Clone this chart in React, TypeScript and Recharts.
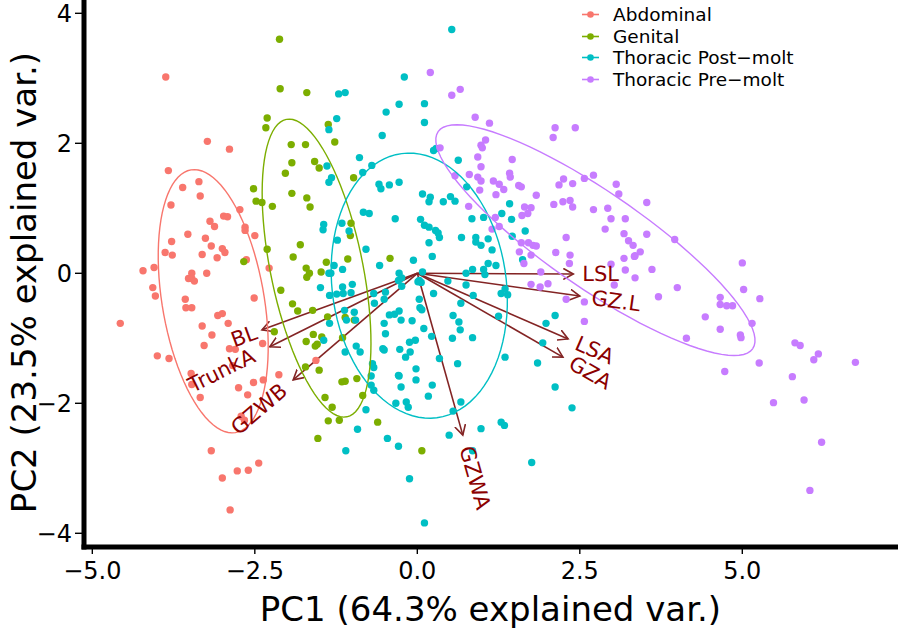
import { Label, Scatter, ScatterChart, XAxis, YAxis } from "recharts";

const FONT = "DejaVu Sans";
const ARROW = "#832424";
const LABEL = "#8B0000";

const groupNames = ["Abdominal", "Genital", "Thoracic Post\u2212molt", "Thoracic Pre\u2212molt"];
const groupColors = ["#F8766D", "#7CAE00", "#00BFC4", "#C77CFF"];

const xTicks = [-5, -2.5, 0, 2.5, 5];
const yTicks = [-4, -2, 0, 2, 4];

// PC scores [PC1, PC2] per group
const abdominal = [
  [-3.87, 3.02], [-3.23, 2.03], [-2.89, 1.91], [-3.83, 1.58], [-3.61, 1.32], [-3.36, 1.41], [-3.34, 1.19],
  [-3.79, 1.05], [-2.73, 0.98], [-2.98, 0.88], [-2.92, 0.87], [-3.19, 0.8], [-3.12, 0.72], [-2.65, 0.71],
  [-2.65, 0.66], [-3.53, 0.6], [-2.5, 0.58], [-3.26, 0.54], [-3.78, 0.49], [-3.17, 0.42], [-3.0, 0.38],
  [-2.96, 0.32], [-3.88, 0.32], [-3.77, 0.28], [-3.31, 0.29], [-3.08, 0.24], [-2.63, 0.21], [-2.28, 0.08],
  [-4.05, 0.09], [-4.22, 0.04], [-3.47, 0.0], [-3.24, 0.0], [-3.52, -0.08], [-3.47, -0.08], [-3.43, -0.12],
  [-4.07, -0.22], [-4.03, -0.35], [-2.51, -0.38], [-3.57, -0.4], [-3.56, -0.53], [-3.47, -0.53], [-3.07, -0.65],
  [-3.0, -0.62], [-4.57, -0.77], [-3.31, -0.81], [-2.91, -0.77], [-3.16, -0.95], [-3.28, -1.11], [-2.89, -1.16],
  [-2.8, -1.17], [-2.38, -1.08], [-4.0, -1.27], [-3.82, -1.31], [-2.84, -1.42], [-3.48, -1.54], [-3.47, -1.71],
  [-2.52, -1.68], [-2.37, -1.64], [-2.13, -1.56], [-2.75, -1.76], [-2.61, -1.87], [-3.34, -1.91], [-2.71, -2.2],
  [-2.66, -2.26], [-3.17, -2.73], [-2.77, -3.04], [-2.6, -3.03], [-2.44, -2.92], [-3.0, -3.15], [-2.88, -3.64],
  [-1.56, -1.34],
];

const genital = [
  [-2.12, 3.6], [-2.11, 2.84], [-1.7, 2.78], [-2.31, 2.39], [-2.33, 2.24], [-1.37, 2.29], [-1.94, 1.98],
  [-1.72, 1.98], [-1.27, 2.02], [-1.93, 1.7], [-1.58, 1.72], [-1.51, 1.62], [-2.03, 1.54], [-0.98, 1.47],
  [-2.52, 1.3], [-2.48, 1.11], [-2.39, 1.09], [-2.23, 1.03], [-1.93, 1.23], [-1.7, 1.16], [-1.65, 1.02],
  [-1.02, 0.77], [-1.03, 0.58], [-2.31, 0.37], [-1.8, 0.44], [-1.91, 0.25], [-1.07, 0.22], [-2.67, 0.18],
  [-1.4, 0.17], [-1.71, 0.08], [-1.66, 0.0], [-1.7, -0.06], [-1.48, 0.02], [-0.42, 0.23], [-2.1, -0.26],
  [-1.92, -0.47], [-1.84, -0.58], [-1.61, -0.57], [-1.38, -0.67], [-2.2, -0.9], [-1.6, -0.94], [-1.47, -0.98],
  [-1.71, -1.05], [-1.57, -1.12], [-1.54, -1.09], [-1.11, -0.68], [-1.72, -1.44], [-1.51, -1.49], [-1.15, -0.99],
  [-0.93, -1.62], [-1.16, -1.67], [-1.11, -1.66], [-1.42, -1.91], [-1.31, -2.06], [-1.37, -2.27], [-1.2, -2.26],
  [-1.53, -2.54], [-0.97, -0.72], [-0.84, -1.88], [-0.61, -2.29], [0.07, -2.73],
];

const postMolt = [
  [-1.21, 2.76], [-1.11, 2.78], [-1.24, 2.38], [-1.36, 2.21], [-1.39, 1.65], [-1.36, 1.4], [-1.32, 1.47],
  [-0.89, 1.78], [-1.44, 0.75], [-1.45, 0.67], [-1.16, 0.77], [-1.23, 0.51], [-1.05, 0.65], [-1.15, 0.06],
  [-1.28, 0.12], [-1.36, 0.0], [-1.33, 0.0], [0.53, 3.75], [-0.2, 3.02], [-0.28, 2.6], [0.11, 2.61],
  [-0.48, 2.48], [0.11, 2.32], [-0.54, 2.12], [0.25, 1.89], [0.29, 1.92], [0.63, 1.74], [-0.7, 1.66],
  [-0.84, 1.55], [-0.59, 1.37], [-0.56, 1.3], [-0.43, 1.36], [-0.28, 1.4], [0.76, 1.33], [0.08, 1.22],
  [0.2, 1.17], [0.18, 1.1], [0.4, 1.1], [0.51, 1.18], [0.58, 1.11], [1.42, 1.07], [-0.83, 0.94], [-0.74, 0.92],
  [1.3, 0.92], [-0.34, 0.84], [0.05, 0.83], [0.84, 0.84], [1.02, 0.86], [1.45, 0.83], [0.11, 0.74], [0.18, 0.71],
  [0.28, 0.66], [0.32, 0.62], [0.34, 0.55], [0.68, 0.55], [0.9, 0.55], [0.9, 0.48], [0.98, 0.43], [1.09, 0.53],
  [1.15, 0.36], [1.46, 0.57], [1.66, 0.65], [0.18, 0.47], [-0.79, 0.37], [-0.06, 0.2], [0.23, 0.26], [-0.58, 0.12],
  [1.09, 0.15], [1.21, 0.12], [1.62, 0.21], [0.85, 0.06], [1.02, 0.06], [0.75, 0.0], [-0.28, 0.0], [0.08, 0.02],
  [1.04, -0.02], [-0.24, -0.07], [-0.29, -0.11], [0.03, -0.11], [0.06, -0.14], [0.01, -0.13], [0.47, -0.12],
  [0.75, -0.18], [-1.0, -0.17], [-1.02, -0.3], [-1.14, -0.31], [-0.67, -0.31], [-0.49, -0.29], [-0.66, -0.46],
  [-0.51, -0.4], [-0.24, -0.2], [0.25, -0.31], [0.86, -0.34], [1.29, -0.31], [1.35, -0.24], [1.39, -0.33],
  [0.03, -0.4], [0.04, -0.53], [0.07, -0.56], [0.67, -0.46], [-1.12, -0.57], [-0.97, -0.6], [-0.95, -0.72],
  [-1.09, -0.72], [-0.43, -0.64], [-0.35, -0.63], [-0.28, -0.58], [-0.25, -0.72], [-0.51, -0.77], [-0.49, -0.93],
  [-0.08, -0.73], [0.55, -0.65], [0.64, -0.75], [0.66, -0.87], [1.25, -0.66], [0.1, -0.85], [0.22, -0.97],
  [0.54, -1.0], [0.85, -0.99], [-0.12, -1.06], [-0.03, -1.03], [-0.11, -1.21], [-0.18, -1.29], [-0.94, -1.12],
  [-0.88, -1.21], [-1.11, -1.21], [-0.53, -1.16], [-0.51, -1.18], [-0.27, -1.17], [0.34, -1.31], [0.62, -1.39],
  [1.35, -1.29], [1.85, -1.38], [1.93, -1.07], [1.98, -0.77], [2.12, -0.65], [-0.69, -1.39], [-0.67, -1.45],
  [-0.71, -1.58], [-0.02, -1.47], [-0.02, -1.64], [-0.29, -1.57], [-0.28, -1.58], [-0.25, -1.75], [0.23, -1.72],
  [0.17, -1.89], [-0.71, -1.72], [-0.67, -1.8], [-0.33, -2.0], [-0.17, -1.98], [-0.14, -2.06], [-0.79, -2.1],
  [0.67, -1.98], [0.55, -2.12], [2.12, -1.75], [2.38, -2.07], [1.29, -2.29], [1.34, -2.34], [0.98, -2.39],
  [0.49, -2.49], [-0.92, -2.4], [-0.46, -2.54], [-0.29, -2.66], [-1.1, -2.73], [0.85, -2.73], [1.76, -2.91],
  [-0.12, -3.16], [0.11, -3.84], [-1.49, -0.22], [-1.35, -0.34], [-1.24, -0.32], [-1.15, -0.21], [-1.35, -0.77],
  [-1.44, -1.03],
];

const preMolt = [
  [0.2, 3.09], [0.53, 2.74], [0.66, 2.83], [0.89, 2.4], [1.11, 2.31], [2.12, 2.24], [2.09, 2.09], [2.43, 2.24],
  [0.35, 1.93], [1.05, 2.05], [0.98, 1.97], [1.0, 1.93], [0.93, 1.79], [1.46, 1.75], [0.98, 1.64], [0.8, 1.52],
  [0.93, 1.48], [0.98, 1.42], [0.96, 1.28], [0.58, 1.5], [1.42, 1.54], [1.43, 1.48], [1.17, 1.42], [1.26, 1.37],
  [1.33, 1.29], [1.21, 1.21], [1.56, 1.35], [1.6, 1.33], [1.83, 1.2], [2.18, 1.36], [2.25, 1.45], [2.39, 1.38],
  [2.57, 1.46], [2.71, 1.51], [3.06, 1.37], [3.1, 1.22], [0.79, 1.03], [1.65, 1.02], [1.75, 1.01], [1.61, 0.89],
  [1.7, 0.92], [2.1, 1.06], [2.24, 1.1], [2.35, 1.12], [2.39, 1.02], [2.71, 0.98], [2.93, 1.0], [2.98, 0.84],
  [3.2, 0.84], [1.2, 0.86], [1.15, 0.68], [1.26, 0.72], [2.89, 0.68], [3.18, 0.61], [3.25, 0.5], [3.32, 0.43],
  [2.29, 0.55], [1.6, 0.47], [1.71, 0.47], [1.78, 0.43], [1.83, 0.42], [1.57, 0.33], [2.13, 0.32], [1.75, 0.28],
  [2.35, 0.28], [3.18, 0.23], [3.35, 0.27], [1.64, 0.15], [1.9, 0.02], [1.75, -0.17], [1.89, -0.21], [2.01, -0.16],
  [2.34, 0.15], [2.98, 0.14], [3.2, 0.05], [3.35, -0.07], [3.03, -0.18], [2.29, -0.4], [2.57, -0.44], [2.57, -0.74],
  [3.53, 1.09], [3.43, 0.33], [3.34, 0.26], [3.53, 0.6], [3.96, 0.52], [3.61, 0.06], [5.0, 0.16], [4.0, -0.22],
  [3.71, -0.36], [5.02, -0.25], [5.27, -0.39], [4.66, -0.37], [4.66, -0.48], [4.76, -0.5], [4.85, -0.5],
  [4.43, -0.67], [4.66, -0.86], [5.15, -0.77], [4.14, -1.0], [4.97, -0.95], [4.98, -0.99], [5.81, -1.07],
  [5.89, -1.11], [6.17, -1.24], [6.1, -1.33], [6.74, -1.37], [4.73, -1.51], [5.26, -1.38], [5.77, -1.59],
  [5.48, -1.99], [5.95, -1.95], [6.22, -2.6], [6.04, -3.34],
];

// concentration ellipses: centre, semi-axes, tilt (degrees)
const ellipseCentres = [[-3.14, -0.43], [-1.55, 0.08], [0.03, -0.19], [2.74, 0.51]];
const ellipseAxes = [[2.05, 0.785], [2.335, 0.71], [2.05, 1.34], [2.94, 0.734]];
const ellipseTilts = [99.6, 101.5, 97.6, -34.6];

// variable loadings (arrow tips)
const loadingNames = ["LSL", "GZ.L", "LSA", "GZA", "GZWA", "BL", "TrunkA", "GZWB"];
const loadingPC1 = [2.4, 2.5, 2.32, 2.24, 0.7, -2.39, -2.27, -1.91];
const loadingPC2 = [-0.01, -0.35, -1.01, -1.29, -2.49, -0.87, -1.13, -1.64];

const groups = [abdominal, genital, postMolt, preMolt].map((pts) =>
  pts.map(([x, y]) => ({ x, y }))
);

const ellipses = ellipseCentres.map(([cx, cy], i) => {
  const [a, b] = ellipseAxes[i];
  const th = (ellipseTilts[i] * Math.PI) / 180;
  const pts = [];
  for (let k = 0; k <= 90; k++) {
    const t = (2 * Math.PI * k) / 90;
    pts.push({
      x: cx + a * Math.cos(t) * Math.cos(th) - b * Math.sin(t) * Math.sin(th),
      y: cy + a * Math.cos(t) * Math.sin(th) + b * Math.sin(t) * Math.cos(th),
    });
  }
  return pts;
});

const loadings = loadingNames.map((name, i) => ({ name, x: loadingPC1[i], y: loadingPC2[i] }));

const fmt = (v: number, digits: number) => v.toFixed(digits).replace("-", "\u2212");

const noShape = () => <g />;

const LoadingLabel = (props: any) => {
  const { cx, cy, payload } = props;
  const angle = (Math.atan(payload.y / payload.x) * 180) / Math.PI;
  const right = payload.x >= 0;
  const gap = payload.name.length * 3;
  return (
    <text
      x={cx}
      y={cy}
      dx={right ? gap : -gap}
      transform={`rotate(${-angle} ${cx} ${cy})`}
      textAnchor={right ? "start" : "end"}
      dominantBaseline="central"
      fill={LABEL}
      fontSize={21}
      fontFamily={FONT}
    >
      {payload.name}
    </text>
  );
};

export default function App() {
  const tickStyle = { fill: "#000", fontSize: 24, fontFamily: FONT };
  return (
    <div style={{ position: "absolute", left: 0, top: 0, width: 898, height: 631, background: "#fff" }}>
      <ScatterChart width={898} height={631} margin={{ top: 2, right: 1, bottom: 0, left: 0 }}>
        <defs>
          <marker
            id="arrowHead"
            markerUnits="userSpaceOnUse"
            markerWidth={12}
            markerHeight={12}
            refX={10}
            refY={6}
            orient="auto"
          >
            <path d="M0,0.5 L10,6 L0,11.5" fill="none" stroke={ARROW} strokeWidth={1.6} />
          </marker>
        </defs>
        <XAxis
          type="number"
          dataKey="x"
          domain={[-5.128, 7.38]}
          allowDataOverflow
          ticks={xTicks}
          tickFormatter={(v) => fmt(v, 1)}
          height={84}
          tick={tickStyle}
          tickSize={7}
          tickMargin={8}
          tickLine={{ stroke: "#000", strokeWidth: 1.4 }}
          axisLine={{ stroke: "#000", strokeWidth: 5, strokeLinecap: "square" }}
        >
          <Label
            content={(p: any) => (
              <text
                x={p.viewBox.x + p.viewBox.width / 2}
                y={621}
                textAnchor="middle"
                fontSize={34}
                fontFamily={FONT}
                fill="#000"
              >
                PC1 (64.3% explained var.)
              </text>
            )}
          />
        </XAxis>
        <YAxis
          type="number"
          dataKey="y"
          domain={[-4.211, 4.174]}
          allowDataOverflow
          ticks={yTicks}
          tickFormatter={(v) => fmt(v, 0)}
          width={84}
          tick={tickStyle}
          tickSize={9}
          tickMargin={3}
          tickLine={{ stroke: "#000", strokeWidth: 1.4 }}
          axisLine={{ stroke: "#000", strokeWidth: 5, strokeLinecap: "square" }}
        >
          <Label
            content={(p: any) => {
              const cy = p.viewBox.y + p.viewBox.height / 2 + 8;
              return (
                <text
                  x={36}
                  y={cy}
                  transform={`rotate(-90 36 ${cy})`}
                  textAnchor="middle"
                  fontSize={34}
                  fontFamily={FONT}
                  fill="#000"
                >
                  PC2 (23.5% explained var.)
                </text>
              );
            }}
          />
        </YAxis>

        {loadings.map((l) => (
          <Scatter
            key={`arrow-${l.name}`}
            data={[{ x: 0, y: 0 }, { x: l.x, y: l.y }]}
            fill={ARROW}
            line={{ stroke: ARROW, strokeWidth: 1.6, markerEnd: "url(#arrowHead)" }}
            shape={noShape}
            isAnimationActive={false}
          />
        ))}

        {groups.map((pts, i) => (
          <Scatter
            key={groupNames[i]}
            name={groupNames[i]}
            data={pts}
            fill={groupColors[i]}
            shape={(p: any) => <circle cx={p.cx} cy={p.cy} r={3.7} fill={groupColors[i]} />}
            isAnimationActive={false}
          />
        ))}

        {ellipses.map((pts, i) => (
          <Scatter
            key={`ellipse-${i}`}
            data={pts}
            fill={groupColors[i]}
            line={{ stroke: groupColors[i], strokeWidth: 1.4 }}
            shape={noShape}
            isAnimationActive={false}
          />
        ))}

        <Scatter data={loadings} fill={LABEL} shape={LoadingLabel} isAnimationActive={false} />
      </ScatterChart>

      <div style={{ position: "absolute", left: 580, top: 4, fontFamily: FONT, fontSize: 18.5, color: "#000" }}>
        {groupNames.map((name, i) => (
          <div
            key={name}
            style={{ display: "flex", alignItems: "center", height: 21.5, lineHeight: "21px", whiteSpace: "nowrap" }}
          >
            <svg width={33} height={21} style={{ flex: "none" }}>
              <line x1={2} y1={10.5} x2={19} y2={10.5} stroke={groupColors[i]} strokeWidth={1.6} />
              <circle cx={10.5} cy={10.5} r={3.3} fill={groupColors[i]} />
            </svg>
            <span>{name}</span>
          </div>
        ))}
      </div>
    </div>
  );
}
